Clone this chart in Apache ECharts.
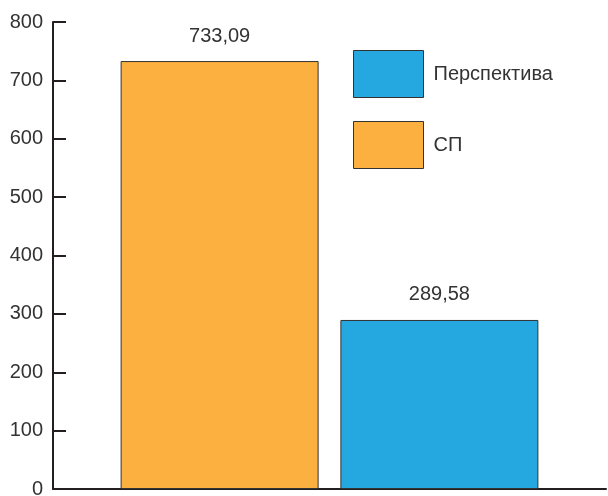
<!DOCTYPE html>
<html>
<head>
<meta charset="utf-8">
<script src="https://cdn.jsdelivr.net/npm/echarts@6/dist/echarts.min.js"></script>
<style>
  html, body { margin: 0; padding: 0; background: #fff; }
  #main { width: 608px; height: 496px; }
</style>
</head>
<body>
<div id="main"></div>
<script>
const categories = [''];
const spName = 'СП';
const perspName = 'Перспектива';
const spValues = [733.09];
const perspValues = [289.58];
const legendOrder = [perspName, spName];
const yMin = 0;
const yMax = 800;
const yStep = 100;

const chart = echarts.init(document.getElementById('main'), null, { renderer: 'canvas' });

const font = "'Liberation Sans', Arial, sans-serif";
const ink = '#231f20';

// comma as decimal separator
function fmt(p) {
  return p.value.toFixed(2).replace('.', ',');
}

const option = {
  animation: false,
  textStyle: { fontFamily: font },
  grid: { left: 53, right: 2, top: 22, bottom: 7, outerBoundsMode: 'none' },
  legend: {
    data: legendOrder,
    orient: 'vertical',
    left: 353,
    top: 50,
    padding: 0,
    itemWidth: 70,
    itemHeight: 47,
    itemGap: 23,
    icon: 'rect',
    textStyle: { fontSize: 20, color: '#333', fontFamily: font, padding: [0, 0, 0, 5] },
    itemStyle: { borderColor: '#333', borderWidth: 1 }
  },
  xAxis: {
    type: 'category',
    data: categories,
    axisLine: { lineStyle: { color: ink, width: 2 } },
    axisTick: { inside: true, length: 10, lineStyle: { color: ink, width: 2 } },
    axisLabel: { show: false },
    splitLine: { show: false }
  },
  yAxis: {
    type: 'value',
    min: yMin,
    max: yMax,
    interval: yStep,
    axisLine: { show: true, lineStyle: { color: ink, width: 2 } },
    axisTick: { show: true, inside: true, length: 13, lineStyle: { color: ink, width: 2 } },
    axisLabel: { fontSize: 20, color: '#333', margin: 10, fontFamily: font },
    splitLine: { show: false }
  },
  series: [
    {
      name: spName,
      type: 'bar',
      data: spValues,
      barWidth: 198,
      barGap: '11%',
      itemStyle: { color: '#FBB040', borderColor: '#333', borderWidth: 1 },
      label: { show: true, position: 'top', distance: 15, fontSize: 20, color: '#333', formatter: fmt }
    },
    {
      name: perspName,
      type: 'bar',
      data: perspValues,
      barWidth: 198,
      barGap: '11%',
      itemStyle: { color: '#25A8E0', borderColor: '#333', borderWidth: 1 },
      label: { show: true, position: 'top', distance: 15, fontSize: 20, color: '#333', formatter: fmt }
    }
  ]
};

chart.setOption(option);
</script>
</body>
</html>
